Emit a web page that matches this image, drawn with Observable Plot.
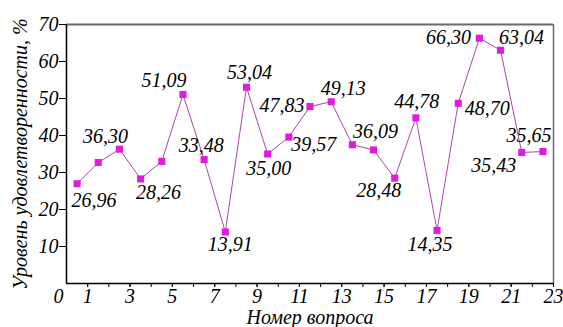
<!DOCTYPE html>
<html>
<head>
<meta charset="utf-8">
<script src="https://cdn.jsdelivr.net/npm/d3@7"></script>
<script src="https://cdn.jsdelivr.net/npm/@observablehq/plot@0.6"></script>
<style>
  html, body { margin: 0; padding: 0; background: #fff; }
</style>
</head>
<body>
<div id="chart"></div>
<script>
// Question numbers (categories)
const questions = [1, 2, 3, 4, 5, 6, 7, 8, 9, 10, 11, 12, 13, 14, 15, 16, 17, 18, 19, 20, 21, 22, 23];
// Satisfaction level, %
const values = [26.96, 32.7, 36.30, 28.26, 33.0, 51.09, 33.48, 13.91, 53.04, 35.00, 39.57, 47.83,
                49.13, 37.5, 36.09, 28.48, 44.78, 14.35, 48.70, 66.30, 63.04, 35.43, 35.65];
// Which points carry a value label (true/false per question)
const labeled = [true, false, true, true, false, true, true, true, true, true, true, true,
                 true, false, true, true, true, true, true, true, true, true, true];
// Tick labels
const xTickLabels = [1, 3, 5, 7, 9, 11, 13, 15, 17, 19, 21, 23];
const yTickLabels = [10, 20, 30, 40, 50, 60, 70];

// Label placement offsets (style only): [dx, dy] in pixels
const labelOffsets = [[17, 17], null, [-14, -13], [18, 14], null, [-19, -14], [-3, -14], [5, 13],
  [3, -15], [1, 15], [25, 8], [-28, -1], [12, -13], null, [2, -18], [-16, 12], [1, -16],
  [-7, 14], [29, 5], [-31, -1], [21, -13], [-28, 13], [-14, -16]];

const data = questions.map((q, i) => ({q, v: values[i], lab: labeled[i], off: labelOffsets[i]}));
const fmt = v => v.toFixed(2).replace(".", ",");
const xpos = d => d.q - 0.5; // each question drawn at the centre of its unit interval

const serif = {fontFamily: "Liberation Serif", fontStyle: "italic"};

const labelMarks = data.filter(d => d.lab).map(d =>
  Plot.text([d], {x: xpos, y: "v", text: d => fmt(d.v), dx: d.off[0], dy: d.off[1],
    fill: "black", fontSize: 20, ...serif})
);

const chart = Plot.plot({
  width: 563,
  height: 327,
  marginLeft: 66,
  marginRight: 10,
  marginTop: 24,
  marginBottom: 44,
  x: {domain: [0, 23]},
  y: {domain: [0, 70]},
  style: {fontSize: "20px", color: "black", background: "white", overflow: "visible"},
  marks: [
    Plot.ruleY([70], {stroke: "#6b6b6b", strokeWidth: 2}),
    Plot.ruleX([23], {stroke: "#6b6b6b", strokeWidth: 1.5}),
    Plot.axisY({ticks: yTickLabels, tickSize: 7, tickPadding: 1, fontSize: 20, ...serif,
      label: "Уровень удовлетворенности, %", labelAnchor: "center", labelArrow: "none", labelOffset: 54}),
    Plot.axisX({ticks: questions.slice(0, 22), tickSize: 4, tickFormat: () => "", label: null}),
    Plot.axisX({ticks: xTickLabels, tickSize: 4, tickPadding: 1, fontSize: 20, ...serif,
      label: "Номер вопроса", labelAnchor: "center", labelArrow: "none", labelOffset: 40}),
    Plot.axisX({ticks: [0], tickSize: 0, tickPadding: 5, dx: -8, fontSize: 20, ...serif, label: null}),
    Plot.ruleX([0], {stroke: "black", strokeWidth: 1.5}),
    Plot.ruleY([0], {stroke: "black", strokeWidth: 1.5}),
    Plot.line(data, {x: xpos, y: "v", stroke: "#a64aa6", strokeWidth: 1}),
    Plot.dot(data, {x: xpos, y: "v", symbol: "square", r: 4, fill: "#e01be0", stroke: "none"}),
    ...labelMarks
  ]
});
chart.setAttribute("font-family", "Liberation Serif");
chart.setAttribute("font-style", "italic");
d3.select(chart).selectAll("text")
  .attr("font-family", "Liberation Serif")
  .attr("font-style", "italic")
  .attr("font-variant", "normal");
document.getElementById("chart").appendChild(chart);
</script>
</body>
</html>
